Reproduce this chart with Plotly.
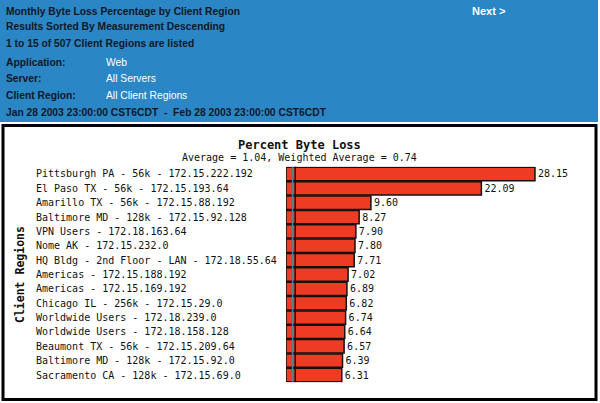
import plotly.graph_objects as go

categories = [
    "Pittsburgh PA - 56k - 172.15.222.192",
    "El Paso TX - 56k - 172.15.193.64",
    "Amarillo TX - 56k - 172.15.88.192",
    "Baltimore MD - 128k - 172.15.92.128",
    "VPN Users - 172.18.163.64",
    "Nome AK - 172.15.232.0",
    "HQ Bldg - 2nd Floor - LAN - 172.18.55.64",
    "Americas - 172.15.188.192",
    "Americas - 172.15.169.192",
    "Chicago IL - 256k - 172.15.29.0",
    "Worldwide Users - 172.18.239.0",
    "Worldwide Users - 172.18.158.128",
    "Beaumont TX - 56k - 172.15.209.64",
    "Baltimore MD - 128k - 172.15.92.0",
    "Sacramento CA - 128k - 172.15.69.0",
]
values = [28.15, 22.09, 9.60, 8.27, 7.90, 7.80, 7.71, 7.02, 6.89, 6.82, 6.74, 6.64, 6.57, 6.39, 6.31]
average = 1.04
weighted_average = 0.74

header_lines = [
    "Monthly Byte Loss Percentage by Client Region",
    "Results Sorted By Measurement Descending",
    "1 to 15 of 507 Client Regions are listed",
]
param_names = ["Application:", "Server:", "Client Region:"]
param_values = ["Web", "All Servers", "All Client Regions"]
date_range = "Jan 28 2003 23:00:00 CST6CDT  -  Feb 28 2003 23:00:00 CST6CDT"

W, H = 600, 403
def py(px):
    return 1 - px / H
def pxx(px):
    return px / W

idx = list(range(len(categories)))

fig = go.Figure()
fig.add_trace(go.Bar(
    x=values, y=idx, orientation="h",
    marker=dict(color="#ee3b24", line=dict(color="#111111", width=1.5)),
    text=[f"{v:.2f}" for v in values], textposition="outside",
    textfont=dict(family="DejaVu Sans Mono", size=10, color="#111111"),
    cliponaxis=False, hoverinfo="skip",
))

MONO = "DejaVu Sans Mono"
HDR = "Liberation Sans, Arial, sans-serif"
anns = []
for i, c in enumerate(categories):
    anns.append(dict(x=pxx(34), xref="paper", y=i, yref="y", text=c, showarrow=False,
                     xanchor="left", yanchor="middle",
                     font=dict(family=MONO, size=10, color="#111111")))
anns.append(dict(x=pxx(299), xref="paper", y=py(145), yref="paper", text="<b>Percent Byte Loss</b>",
                 showarrow=False, xanchor="center", yanchor="middle",
                 font=dict(family=MONO, size=12, color="#111111")))
anns.append(dict(x=pxx(299), xref="paper", y=py(157), yref="paper",
                 text=f"Average = {average:.2f}, Weighted Average = {weighted_average:.2f}",
                 showarrow=False, xanchor="center", yanchor="middle",
                 font=dict(family=MONO, size=10, color="#111111")))
anns.append(dict(x=pxx(20), xref="paper", y=py(275), yref="paper", text="<b>Client Regions</b>",
                 showarrow=False, xanchor="center", yanchor="middle", textangle=-90,
                 font=dict(family=MONO, size=11.5, color="#111111")))

dark = "#101828"
HS = 10.3
ys = [11, 27, 43]
for t, yy in zip(header_lines, ys):
    anns.append(dict(x=pxx(4), xref="paper", y=py(yy), yref="paper", text=f"<b>{t}</b>",
                     showarrow=False, xanchor="left", yanchor="middle",
                     font=dict(family=HDR, size=HS, color=dark)))
for n, v, yy in zip(param_names, param_values, [62, 79, 95]):
    anns.append(dict(x=pxx(4), xref="paper", y=py(yy), yref="paper", text=f"<b>{n}</b>",
                     showarrow=False, xanchor="left", yanchor="middle",
                     font=dict(family=HDR, size=HS, color=dark)))
    anns.append(dict(x=pxx(104), xref="paper", y=py(yy), yref="paper", text=v,
                     showarrow=False, xanchor="left", yanchor="middle",
                     font=dict(family=HDR, size=HS, color="#ffffff")))
anns.append(dict(x=pxx(4), xref="paper", y=py(113), yref="paper", text=f"<b>{date_range}</b>",
                 showarrow=False, xanchor="left", yanchor="middle",
                 font=dict(family=HDR, size=HS, color=dark)))
anns.append(dict(x=pxx(470), xref="paper", y=py(11), yref="paper", text="<b>Next ></b>",
                 showarrow=False, xanchor="left", yanchor="middle",
                 font=dict(family=HDR, size=11, color="#ffffff")))

shapes = [
    dict(type="rect", xref="paper", yref="paper", x0=0, x1=pxx(598), y0=py(122), y1=1,
         fillcolor="#2b86c5", line=dict(width=0), layer="below"),
    dict(type="rect", xref="paper", yref="paper", x0=pxx(3), x1=pxx(596), y0=py(399.5), y1=py(125.5),
         fillcolor="rgba(0,0,0,0)", line=dict(color="#000000", width=3), layer="above"),
    dict(type="line", xref="x", yref="y", x0=weighted_average, x1=weighted_average, y0=-0.7, y1=14.5,
         line=dict(color="#557f94", width=1.5), layer="above"),
    dict(type="line", xref="x", yref="y", x0=average, x1=average, y0=-0.7, y1=14.5,
         line=dict(color="#111111", width=1.5), layer="above"),
]

fig.update_layout(
    width=W, height=H, margin=dict(l=0, r=0, t=0, b=0),
    paper_bgcolor="#ffffff", plot_bgcolor="#ffffff", showlegend=False,
    bargap=0.07,
    xaxis=dict(domain=[pxx(286), pxx(590)], range=[0, 34.37], showgrid=False, zeroline=False,
               showticklabels=False, ticks="", showline=False, fixedrange=True),
    yaxis=dict(domain=[py(382.2), py(166.8)], range=[14.5, -0.5], showgrid=False, zeroline=False,
               showticklabels=False, ticks="", showline=False, fixedrange=True),
    annotations=anns, shapes=shapes,
)

fig.write_html("out.html", config={"displayModeBar": False},
               post_script="document.body.style.margin='0';document.body.style.overflow='hidden';")
